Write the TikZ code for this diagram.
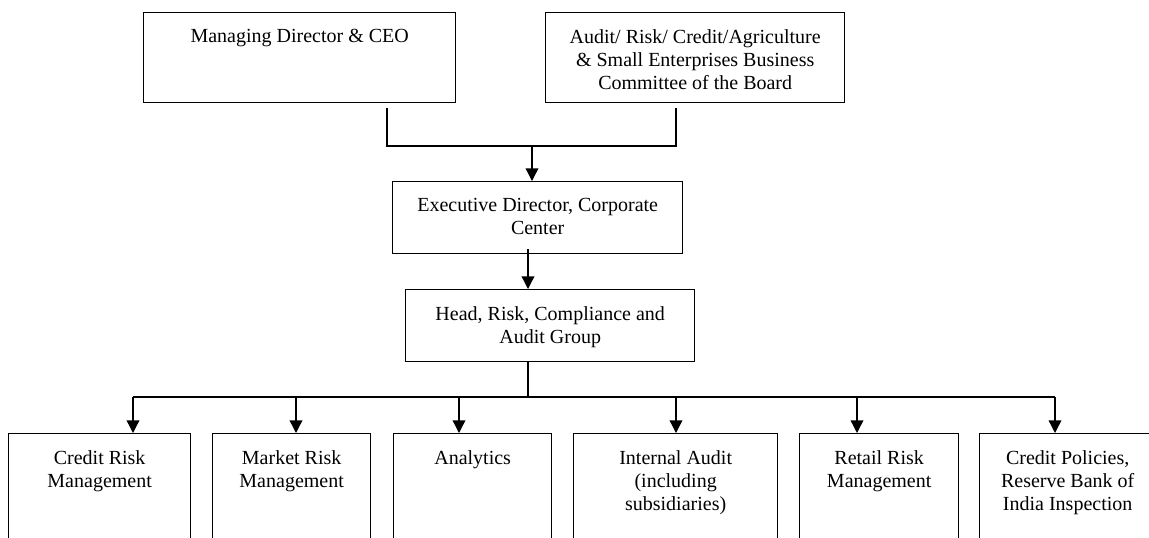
\documentclass[tikz,border=0pt]{standalone}
\usepackage{fontspec}
\setmainfont{Liberation Serif}
\usetikzlibrary{arrows.meta, positioning, calc}

\begin{document}
\begin{tikzpicture}[x=0.75pt, y=-0.75pt,
    box/.style={draw, line width=1pt, rectangle, inner sep=0pt, anchor=north west},
    txt/.style={anchor=north, align=center, inner sep=0pt, font=\fontsize{15}{17.25}\selectfont},
    wire/.style={line width=1pt},
    arr/.style={line width=1pt, -{Triangle[width=9.5pt, length=9.5pt]}}]
    \useasboundingbox (0,0) rectangle (1149,537);

    % top row
    \node[box, minimum width=234pt, minimum height=67.5pt] (md) at (143,12) {};
    \node[box, minimum width=224.25pt, minimum height=67.5pt] (board) at (545,12) {};
    \node[txt] (mdt) at ($(md.north)+(0,17)$) {Managing Director \& CEO};
    \node[txt] (boardt) at ($(board.north)+(0,17)$) {Audit/ Risk/ Credit/Agriculture\\ \& Small Enterprises Business\\ Committee of the Board};

    % middle
    \node[box, minimum width=217.5pt, minimum height=54pt] (exec) at (392,181) {};
    \node[box, minimum width=216.75pt, minimum height=54pt] (head) at (405,289) {};
    \node[txt] (exect) at ($(exec.north)+(0,17)$) {Executive Director, Corporate\\ Center};
    \node[txt] (headt) at ($(head.north)+(0,17)$) {Head, Risk, Compliance and\\ Audit Group};

    % bottom row
    \node[box, minimum width=136.5pt, minimum height=112.5pt] (credit) at (8,433) {};
    \node[box, minimum width=118.5pt, minimum height=112.5pt] (market) at (212,433) {};
    \node[box, minimum width=118.5pt, minimum height=112.5pt] (analytics) at (393,433) {};
    \node[box, minimum width=153pt, minimum height=112.5pt] (internal) at (573,433) {};
    \node[box, minimum width=119.25pt, minimum height=112.5pt] (retail) at (799,433) {};
    \node[box, minimum width=132pt, minimum height=112.5pt] (policies) at (979,433) {};
    \node[txt] (creditt) at ($(credit.north)+(0,17)$) {Credit Risk\\ Management};
    \node[txt] (markett) at ($(market.north)+(0,17)$) {Market Risk\\ Management};
    \node[txt] (analyticst) at ($(analytics.north)+(0,17)$) {Analytics};
    \node[txt] (internalt) at ($(internal.north)+(0,17)$) {Internal Audit\\ (including\\ subsidiaries)};
    \node[txt] (retailt) at ($(retail.north)+(0,17)$) {Retail Risk\\ Management};
    \node[txt] (policiest) at ($(policies.north)+(0,17)$) {Credit Policies,\\ Reserve Bank of\\ India Inspection};

    % connectors
    \coordinate (mdleg) at (387,108);
    \coordinate (boardleg) at (676,108);
    \coordinate (join) at (532,146);
    \draw[wire] (mdleg) |- (boardleg |- join) -- (boardleg);
    \draw[arr] (join) -- (join |- exec.north);

    \coordinate (execout) at (528,249);
    \draw[arr] (execout) -- (execout |- head.north);

    \coordinate (headout) at (528,361);
    \coordinate (hub) at (528,397);
    \draw[wire] (headout) -- (hub);
    \draw[wire] (133,397) -- (1055,397);
    \foreach \n/\x in {credit/133, market/296, analytics/459, internal/676, retail/857, policies/1055}
        \draw[arr] (\x,397) -- (\n.north -| \x,0);
\end{tikzpicture}
\end{document}
